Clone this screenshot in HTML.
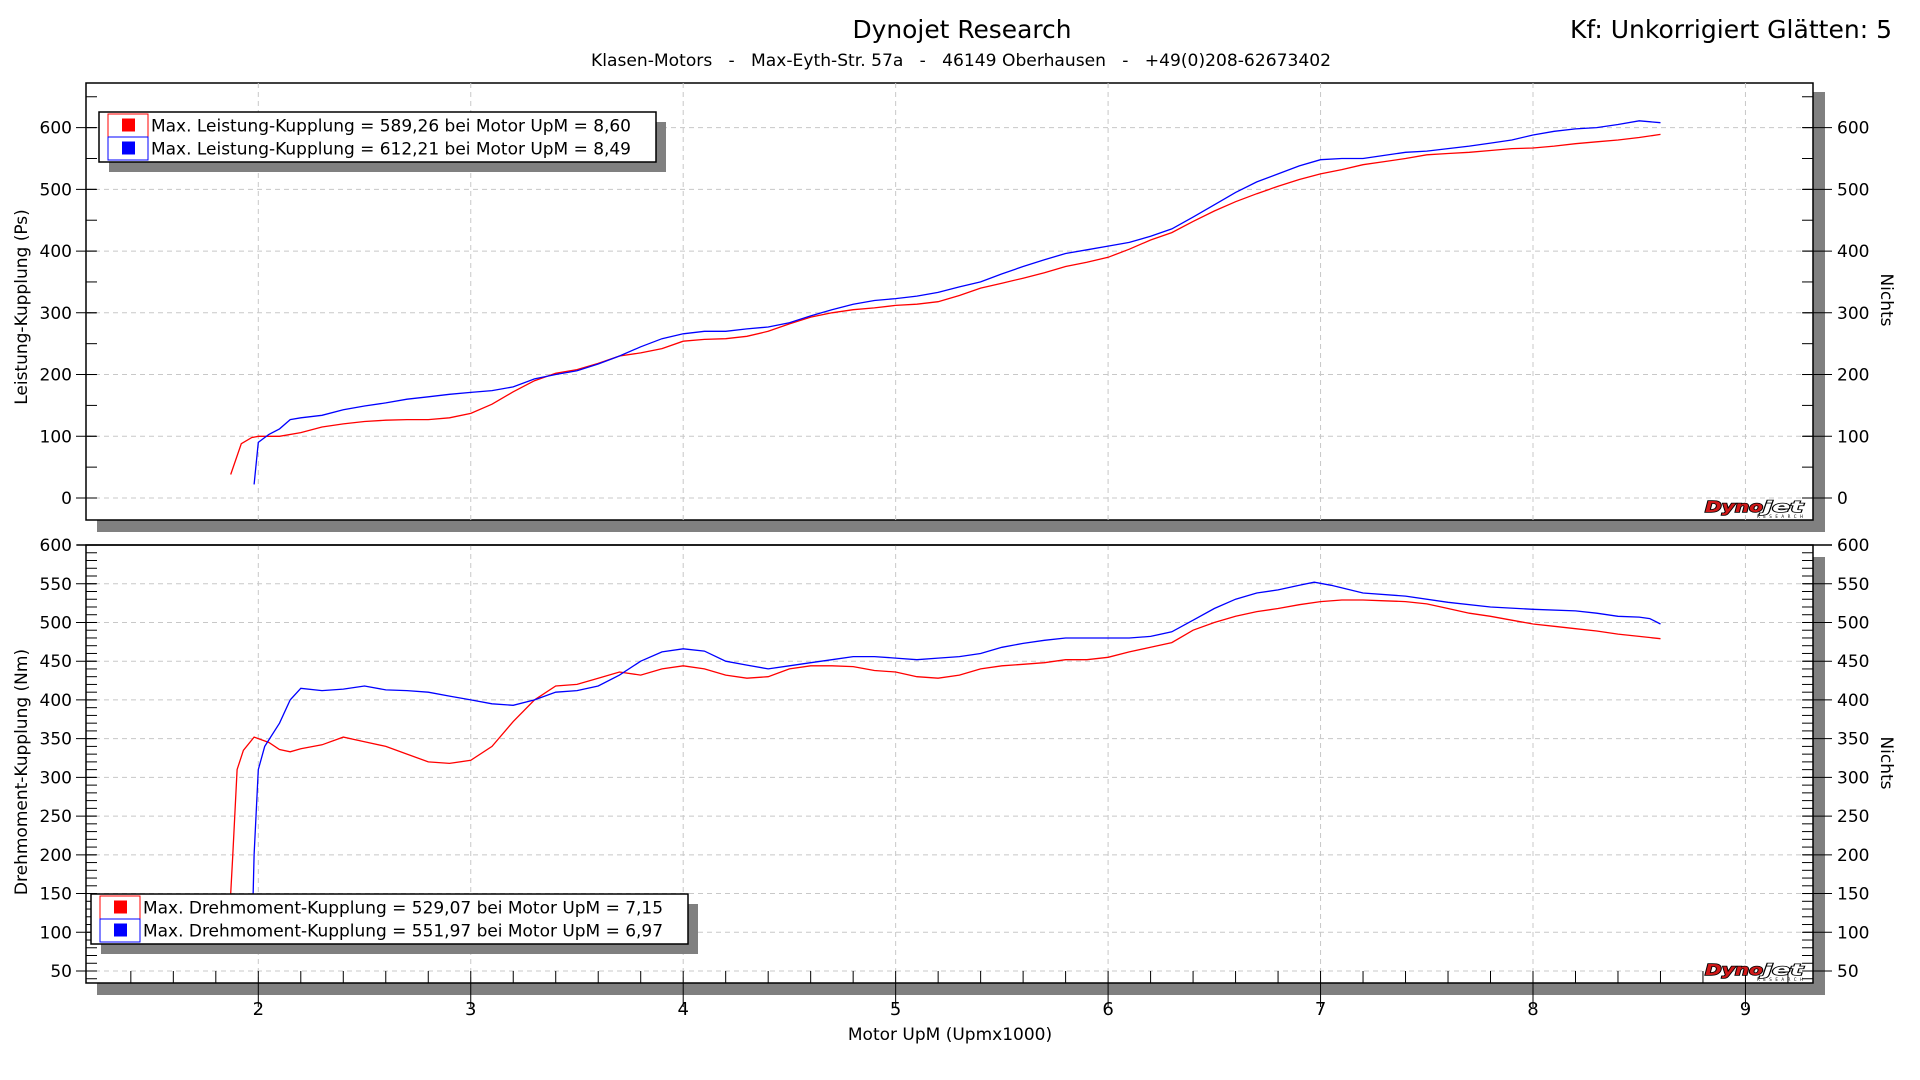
<!DOCTYPE html>
<html><head><meta charset="utf-8"><style>
html,body{margin:0;padding:0;background:#fff;width:1920px;height:1080px;overflow:hidden}
svg{display:block}
text{font-family:"DejaVu Sans","Liberation Sans",sans-serif;fill:#000}
</style></head><body>
<svg id="chart" width="1920" height="1080" xmlns="http://www.w3.org/2000/svg">
<text x="962" y="38" font-size="25" text-anchor="middle" textLength="219" lengthAdjust="spacingAndGlyphs">Dynojet Research</text>
<text x="961" y="66" font-size="17" text-anchor="middle" textLength="740" lengthAdjust="spacingAndGlyphs" xml:space="preserve">Klasen-Motors   -   Max-Eyth-Str. 57a   -   46149 Oberhausen   -   +49(0)208-62673402</text>
<text x="1892" y="38" font-size="25" text-anchor="end" textLength="322" lengthAdjust="spacingAndGlyphs">Kf: Unkorrigiert Glätten: 5</text>
<g id="layer"></g>
</svg>
<script>
// ---- data ----
const redPowerRpm=[1.87,1.92,1.97,2.0,2.1,2.2,2.3,2.4,2.5,2.6,2.7,2.8,2.9,3.0,3.1,3.2,3.3,3.4,3.5,3.6,3.7,3.8,3.9,4.0,4.1,4.2,4.3,4.4,4.5,4.6,4.7,4.8,4.9,5.0,5.1,5.2,5.3,5.4,5.5,5.6,5.7,5.8,5.9,6.0,6.1,6.2,6.3,6.4,6.5,6.6,6.7,6.8,6.9,7.0,7.1,7.2,7.3,7.4,7.5,7.6,7.7,7.8,7.9,8.0,8.1,8.2,8.3,8.4,8.5,8.6];
const redPower=[38,88,98,100,100,106,115,120,124,126,127,127,130,137,152,172,190,202,208,218,230,235,242,254,257,258,262,270,282,293,300,305,308,312,314,318,328,340,348,356,365,375,382,390,403,418,430,448,465,480,493,505,516,525,532,540,545,550,556,558,560,563,566,567,570,574,577,580,584,589];
const bluePowerRpm=[1.98,2.0,2.05,2.1,2.15,2.2,2.3,2.4,2.5,2.6,2.7,2.8,2.9,3.0,3.1,3.2,3.3,3.4,3.5,3.6,3.7,3.8,3.9,4.0,4.1,4.2,4.3,4.4,4.5,4.6,4.7,4.8,4.9,5.0,5.1,5.2,5.3,5.4,5.5,5.6,5.7,5.8,5.9,6.0,6.1,6.2,6.3,6.4,6.5,6.6,6.7,6.8,6.9,7.0,7.1,7.2,7.3,7.4,7.5,7.6,7.7,7.8,7.9,8.0,8.1,8.2,8.3,8.4,8.5,8.6];
const bluePower=[22,90,103,112,127,130,134,143,149,154,160,164,168,171,174,180,193,200,206,217,230,245,258,266,270,270,274,277,284,295,305,314,320,323,327,333,342,350,363,375,386,396,402,408,414,424,436,455,475,495,512,525,538,548,550,550,555,560,562,566,570,575,580,588,594,598,600,605,611,608];
const redTorqueRpm=[1.86,1.88,1.9,1.93,1.98,2.05,2.1,2.15,2.2,2.3,2.4,2.5,2.6,2.7,2.8,2.9,3.0,3.1,3.2,3.3,3.4,3.5,3.6,3.7,3.8,3.9,4.0,4.1,4.2,4.3,4.4,4.5,4.6,4.7,4.8,4.9,5.0,5.1,5.2,5.3,5.4,5.5,5.6,5.7,5.8,5.9,6.0,6.1,6.2,6.3,6.4,6.5,6.6,6.7,6.8,6.9,7.0,7.1,7.2,7.3,7.4,7.5,7.6,7.7,7.8,7.9,8.0,8.1,8.2,8.3,8.4,8.5,8.6];
const redTorque=[100,200,310,335,352,345,336,333,337,342,352,346,340,330,320,318,322,340,372,400,418,420,428,436,432,440,444,440,432,428,430,440,444,444,443,438,436,430,428,432,440,444,446,448,452,452,455,462,468,474,490,500,508,514,518,523,527,529,529,528,527,524,518,512,508,503,498,495,492,489,485,482,479];
const blueTorqueRpm=[1.97,1.98,2.0,2.03,2.1,2.15,2.2,2.3,2.4,2.5,2.6,2.7,2.8,2.9,3.0,3.1,3.2,3.3,3.4,3.5,3.6,3.7,3.8,3.9,4.0,4.1,4.2,4.3,4.4,4.5,4.6,4.7,4.8,4.9,5.0,5.1,5.2,5.3,5.4,5.5,5.6,5.7,5.8,5.9,6.0,6.1,6.2,6.3,6.4,6.5,6.6,6.7,6.8,6.9,6.97,7.05,7.2,7.4,7.6,7.8,8.0,8.2,8.3,8.4,8.5,8.55,8.6];
const blueTorque=[85,200,310,340,370,400,415,412,414,418,413,412,410,405,400,395,393,400,410,412,418,432,450,462,466,463,450,445,440,444,448,452,456,456,454,452,454,456,460,468,473,477,480,480,480,480,482,488,503,518,530,538,542,548,552,548,538,534,526,520,517,515,512,508,507,505,498];
const xTickLabels=[2,3,4,5,6,7,8,9];
const powerTicks=[0,100,200,300,400,500,600];
const torqueTicks=[50,100,150,200,250,300,350,400,450,500,550,600];
const legendTop=["Max. Leistung-Kupplung = 589,26 bei Motor UpM = 8,60","Max. Leistung-Kupplung = 612,21 bei Motor UpM = 8,49"];
const legendBottom=["Max. Drehmoment-Kupplung = 529,07 bei Motor UpM = 7,15","Max. Drehmoment-Kupplung = 551,97 bei Motor UpM = 6,97"];

// ---- geometry ----
const NS="http://www.w3.org/2000/svg";
const L=86,R=1813;
const xs=v=>258.3+(v-2)*212.45;
const TOP={t:83,b:520,y:v=>498-v*0.6173};
const BOT={t:545,b:983,y:v=>971-(v-50)*0.7745};
const layer=document.getElementById('layer');
function mk(tag,attrs,parent){const e=document.createElementNS(NS,tag);for(const k in attrs)e.setAttribute(k,attrs[k]);(parent||layer).appendChild(e);return e;}

function panel(P,name,ticks,minorStep,minorMin,minorMax,title,titleY,nichtsY,xticks){
  const g=mk('g',{});
  
  
  // shadow
  mk('rect',{x:L+11,y:P.b,width:R-L+1,height:12,fill:'#808080'},g);
  mk('rect',{x:R,y:P.t+(name==='power-panel'?9:12),width:12,height:P.b-P.t,fill:'#808080'},g);
  mk('rect',{x:L,y:P.t,width:R-L,height:P.b-P.t,fill:'#fff',stroke:'#000','stroke-width':1.5},g);
  // grid
  for(const v of xTickLabels){mk('line',{x1:xs(v),x2:xs(v),y1:P.t,y2:P.b,stroke:'#c8c8c8','stroke-dasharray':'5,4'},g);}
  for(const v of ticks){const y=P.y(v);
    mk('line',{x1:L,x2:R,y1:y,y2:y,stroke:'#c8c8c8','stroke-dasharray':'5,4'},g);
    mk('line',{x1:L-10,x2:L+10,y1:y,y2:y,stroke:'#000'},g);
    mk('line',{x1:R-10,x2:R+19,y1:y,y2:y,stroke:'#000'},g);
    const tl=mk('text',{x:L-14,y:y+6,'font-size':17,'text-anchor':'end'},g);tl.textContent=v;
    
    const tr=mk('text',{x:R+24,y:y+6,'font-size':17},g);tr.textContent=v;
    
  }
  for(let v=minorMin;v<=minorMax;v+=minorStep){const y=P.y(v);if(y<P.t||y>P.b)continue;
    mk('line',{x1:L,x2:L+11,y1:y,y2:y,stroke:'#000'},g);
    mk('line',{x1:R-11,x2:R,y1:y,y2:y,stroke:'#000'},g);}
  if(xticks){for(let v=1.4;v<=9.31;v+=0.2){const x=xs(v);mk('line',{x1:x,x2:x,y1:P.b-12,y2:P.b,stroke:'#000'},g);}
    for(const v of xTickLabels){mk('line',{x1:xs(v),x2:xs(v),y1:P.b,y2:P.b+24,stroke:'#000'},g);
      const t=mk('text',{x:xs(v),y:1015,'font-size':18,'text-anchor':'middle'},g);t.textContent=v;
      }}
  const yt=mk('text',{x:0,y:0,'font-size':17,'text-anchor':'middle',transform:`translate(27,${titleY}) rotate(-90)`},g);yt.textContent=title;
  
  const nt=mk('text',{x:0,y:0,'font-size':17,'text-anchor':'middle',transform:`translate(1881,${nichtsY}) rotate(90)`},g);nt.textContent='Nichts';
  
  // logo
  const lg=mk('g',{transform:`translate(1705,${P.b-20})`},g);
  
  
  const t1=mk('text',{x:0,y:12,'font-size':15,'font-weight':'bold','font-style':'italic',stroke:'#000','stroke-width':1.5,'paint-order':'stroke',style:'fill:#d01818',textLength:58,lengthAdjust:'spacingAndGlyphs'},lg);t1.textContent='Dyno';
  const t2=mk('text',{x:58,y:12,'font-size':15,'font-weight':'bold','font-style':'italic',stroke:'#000','stroke-width':1.5,'paint-order':'stroke',style:'fill:#fff',textLength:40,lengthAdjust:'spacingAndGlyphs'},lg);t2.textContent='jet';
  const t3=mk('text',{x:52,y:18,'font-size':4,textLength:46,lengthAdjust:'spacing'},lg);t3.textContent='RESEARCH';
  return g;
}
function series(P,rpm,vals,color,name){
  const pts=rpm.map((r,i)=>xs(r).toFixed(1)+','+P.y(vals[i]).toFixed(1)).join(' ');
  const p=mk('polyline',{points:pts,fill:'none',stroke:color,'stroke-width':1.3,'clip-path':P===TOP?'url(#ct)':'url(#cb)'});
  
  
}
function legend(x,y,w,h,lines,name,textLen){
  const g=mk('g',{});
  
  
  mk('rect',{x:x+10,y:y+10,width:w,height:h,fill:'#808080'},g);
  mk('rect',{x:x,y:y,width:w,height:h,fill:'#fff',stroke:'#000','stroke-width':1.5},g);
  const cols=['#ff0000','#0000ff'];
  lines.forEach((s,i)=>{const ry=y+2+i*(h-4)/2,rh=(h-4)/2;
    const e=mk('g',{},g);
    
    
    mk('rect',{x:x+9,y:ry,width:40,height:rh,fill:'none',stroke:cols[i]},e);
    mk('rect',{x:x+23,y:ry+rh/2-7,width:13,height:13,fill:cols[i]},e);
    const t=mk('text',{x:x+52,y:ry+rh/2+6,'font-size':17,textLength:textLen,lengthAdjust:'spacingAndGlyphs'},e);t.textContent=s;});
}
const defs=mk('defs',{});
const c1=mk('clipPath',{id:'ct'},defs);mk('rect',{x:L,y:TOP.t,width:R-L,height:TOP.b-TOP.t},c1);
const c2=mk('clipPath',{id:'cb'},defs);mk('rect',{x:L,y:BOT.t,width:R-L,height:BOT.b-BOT.t},c2);

panel(TOP,'power-panel',powerTicks,50,-50,650,'Leistung-Kupplung (Ps)',307,300,false);
panel(BOT,'torque-panel',torqueTicks,10,40,600,'Drehmoment-Kupplung (Nm)',772,763,true);
mk('line',{x1:L-9,x2:R+19,y1:BOT.t,y2:BOT.t,stroke:'#000','stroke-width':1.5});
series(TOP,redPowerRpm,redPower,'#ff0000','power-red-line');
series(TOP,bluePowerRpm,bluePower,'#0000ff','power-blue-line');
series(BOT,redTorqueRpm,redTorque,'#ff0000','torque-red-line');
series(BOT,blueTorqueRpm,blueTorque,'#0000ff','torque-blue-line');
legend(99,112,557,50,legendTop,'power-legend',480);
legend(91,894,597,50,legendBottom,'torque-legend',520);
const xt=mk('text',{x:950,y:1040,'font-size':17,'text-anchor':'middle'});xt.textContent='Motor UpM (Upmx1000)';


</script>
</body></html>
